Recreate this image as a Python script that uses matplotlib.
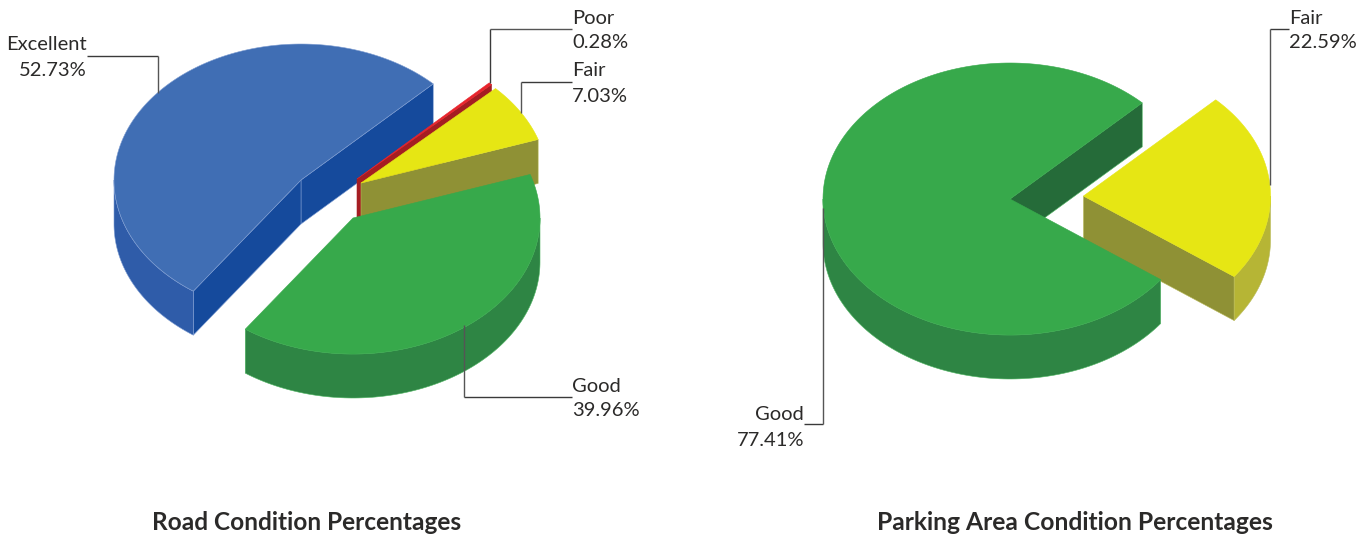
import numpy as np
import matplotlib
matplotlib.use("Agg")
import matplotlib.pyplot as plt
from matplotlib.patches import Polygon

road_labels = ["Excellent", "Good", "Fair", "Poor"]
road_values = [52.73, 39.96, 7.03, 0.28]
parking_labels = ["Good", "Fair"]
parking_values = [77.41, 22.59]

# top, cut side, rim side, edge
colors = {
    "Excellent": ("#406eb4", "#154a9c", "#2f5ca9", "#7e9dd2"),
    "Good": ("#37a94b", "#2e8544", "#2e8544", "#4fb562"),
    "Fair": ("#e6e614", "#8f9135", "#b6b535", "#b9ba5a"),
    "Poor": ("#e8242c", "#a51d22", "#a51d22", "#a51d22"),
}
parking_cut = "#256b39"

RX = 187
RY = 136
DEPTH = 44
FONT = "Lato"


def point(cx, cy, ang):
    a = np.radians(ang)
    return cx + RX * np.cos(a), cy - RY * np.sin(a)


def draw_slice(ax, cx, cy, start, sweep, name, z, cut_color=None):
    top_c, cut_c, rim_c, edge_c = colors[name]
    if cut_color:
        cut_c = cut_color
    end = start + sweep
    angs = np.linspace(start, end, 200)
    xs, ys = point(cx, cy, angs)

    # flat cut faces, only the ones turned to the viewer
    for a, normal in ((start, start - 90), (end, end + 90)):
        if np.sin(np.radians(normal)) < 0:
            px, py = point(cx, cy, a)
            ax.add_patch(Polygon([(cx, cy), (px, py), (px, py + DEPTH), (cx, cy + DEPTH)],
                                 fc=cut_c, ec=edge_c, lw=0.4, zorder=z))

    # outer wall, only the front half can be seen
    for k in (-1, 0, 1):
        lo = max(start, 180 + 360 * k)
        hi = min(end, 360 + 360 * k)
        if hi > lo:
            rim = np.linspace(lo, hi, 120)
            rx, ry = point(cx, cy, rim)
            pts = list(zip(rx, ry)) + list(zip(rx[::-1], ry[::-1] + DEPTH))
            ax.add_patch(Polygon(pts, fc=rim_c, ec=edge_c, lw=0.4, zorder=z + 0.1))

    top = [(cx, cy)] + list(zip(xs, ys))
    top_edge = edge_c if name == "Excellent" else top_c
    ax.add_patch(Polygon(top, fc=top_c, ec=top_edge, lw=0.4, zorder=z + 0.2))


def sweeps(values, first=45):
    out = {}
    a = first
    for v in values:
        s = v / 100 * 360
        out[len(out)] = (a, s)
        a += s
    return out


def leader(ax, pts):
    # the drawn lines go dark then grey in the original
    xs, ys = zip(*pts)
    ax.plot(xs[:2], ys[:2], color="#3a3a3a", lw=1.0, zorder=5, solid_capstyle="butt")
    ax.plot(xs[1:], ys[1:], color="#555555", lw=1.0, zorder=5, solid_capstyle="butt")


def label(ax, x, y, name, value, ha="left"):
    ax.text(x, y, name, ha=ha, va="center", fontsize=14.5, color="#2b2a29", family=FONT)
    ax.text(x, y + 25, f"{value:.2f}%", ha=ha, va="center", fontsize=14.5, color="#2b2a29", family=FONT)


fig = plt.figure(figsize=(13.67, 5.35), dpi=100)
ax = fig.add_axes([0, 0, 1, 1])
ax.set_xlim(0, 1367)
ax.set_ylim(535, 0)
ax.axis("off")

# road pie, every slice has its own pulled out centre
road_centers = {"Excellent": (301, 180), "Good": (353, 218), "Fair": (361, 183), "Poor": (357, 179)}
road_z = {"Excellent": 1, "Poor": 2, "Fair": 3, "Good": 4}
road_angles = sweeps(road_values)
for i, name in enumerate(road_labels):
    cx, cy = road_centers[name]
    start, sweep = road_angles[i]
    draw_slice(ax, cx, cy, start, sweep, name, road_z[name])

# parking pie
park_angles = sweeps(parking_values)
draw_slice(ax, 1083.5, 196, park_angles[1][0], park_angles[1][1], "Fair", 1)
draw_slice(ax, 1010, 199, park_angles[0][0], park_angles[0][1], "Good", 2, cut_color=parking_cut)

leader(ax, [(490, 83), (490, 29), (572, 29)])
leader(ax, [(572, 82), (521, 82), (521, 113)])
leader(ax, [(87, 56), (158, 56), (158, 93)])
leader(ax, [(572, 397), (464, 397), (464, 325)])
leader(ax, [(804, 424), (823, 424), (823, 208)])
leader(ax, [(1289, 29), (1270, 29), (1270, 185)])

label(ax, 572, 18, road_labels[3], road_values[3])
label(ax, 572, 71, road_labels[2], road_values[2])
label(ax, 87, 45, road_labels[0], road_values[0], ha="right")
label(ax, 572, 386, road_labels[1], road_values[1])
label(ax, 804, 415, parking_labels[0], parking_values[0], ha="right")
label(ax, 1289, 18, parking_labels[1], parking_values[1])

ax.text(306.5, 522, "Road Condition Percentages", ha="center", va="center",
        fontsize=17.6, fontweight="bold", color="#2b2a29", family=FONT)
ax.text(1075, 522, "Parking Area Condition Percentages", ha="center", va="center",
        fontsize=17.7, fontweight="bold", color="#2b2a29", family=FONT)

fig.savefig("out.png", dpi=100)
